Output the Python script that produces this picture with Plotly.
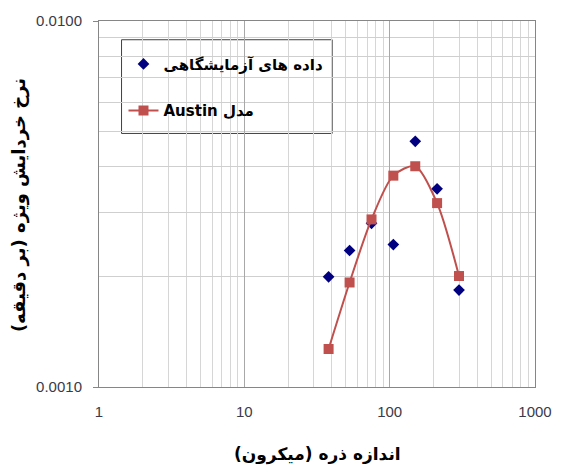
import plotly.graph_objects as go

# Particle size (micron) and specific breakage rate (1/min)
size_um = [38, 53, 75, 106, 150, 212, 300]
rate_lab = [0.00200, 0.00236, 0.00280, 0.00245, 0.00469, 0.00348, 0.00184]
rate_austin = [0.00127, 0.00193, 0.00287, 0.00378, 0.00401, 0.00318, 0.00201]

x_ticks = [1, 10, 100, 1000]
x_tick_text = ["1", "10", "100", "1000"]
y_ticks = [0.001, 0.01]
y_tick_text = ["0.0010", "0.0100"]

name_lab = "<b>داده های آزمایشگاهی</b>"
name_model = "<b>Austin مدل</b>"
x_title = "<b>اندازه ذره (میکرون)\u200f</b>"
y_title = "<b>نرخ خردایش ویژه (بر دقیقه)\u200f</b>"

x_minor = [m * 10 ** k for k in range(0, 3) for m in range(2, 10)]
y_minor = [m * 1e-3 for m in range(2, 10)]

W, H = 564, 472
L, R, T, B = 99, 20, 16, 85
pw, ph = W - L - R, H - T - B


def px_x(p):
    return (p - L) / pw


def px_y(p):
    return (H - B - p) / ph


fig = go.Figure()
fig.add_trace(go.Scatter(
    x=size_um, y=rate_lab, mode="markers", name=name_lab,
    legendgroup="a",
    marker=dict(symbol="diamond", size=9, color="#000080"),
))
fig.add_trace(go.Scatter(
    x=size_um, y=rate_austin, mode="lines+markers", name=name_model,
    legendgroup="b",
    line=dict(color="#C0504D", width=2, shape="spline", smoothing=0.8),
    marker=dict(symbol="square", size=10, color="#C0504D"),
))

tick_font = dict(family="Liberation Sans, Arial, sans-serif", size=15, color="#3a3a4a")

fig.update_layout(
    width=W, height=H,
    margin=dict(l=L, r=R, t=T, b=B),
    paper_bgcolor="white", plot_bgcolor="white",
    showlegend=True,
    legend=dict(
        x=px_x(124), y=px_y(43), xanchor="left", yanchor="top",
        bgcolor="rgba(0,0,0,0)", borderwidth=0,
        font=dict(family="DejaVu Sans, sans-serif", size=15, color="#000000"),
        tracegroupgap=24, traceorder="grouped",
    ),
    xaxis=dict(
        type="log", range=[0, 3],
        tickmode="array", tickvals=x_ticks, ticktext=x_tick_text,
        tickfont=tick_font,
        showgrid=True, gridcolor="#a8a8a8", gridwidth=1,
        showline=True, linecolor="#868686", linewidth=1, mirror=True,
        ticks="outside", ticklen=11, tickcolor="rgba(0,0,0,0)",
        minor=dict(tickmode="array", tickvals=x_minor, showgrid=True,
                   gridcolor="#d6d6d6", gridwidth=1, ticks=""),
        zeroline=False,
    ),
    yaxis=dict(
        type="log", range=[-3, -2],
        tickmode="array", tickvals=y_ticks, ticktext=y_tick_text,
        tickfont=tick_font,
        showgrid=False,
        showline=True, linecolor="#868686", linewidth=1, mirror=True,
        ticks="outside", ticklen=5, tickcolor="#868686",
        ticklabelstandoff=8,
        minor=dict(tickmode="array", tickvals=y_minor, showgrid=True,
                   gridcolor="#cfcfcf", gridwidth=1, ticks=""),
        zeroline=False,
    ),
    shapes=[dict(
        type="rect", xref="paper", yref="paper",
        x0=px_x(122), x1=px_x(337), y0=px_y(130), y1=px_y(35),
        line=dict(color="#404040", width=1), fillcolor="white", layer="below",
    )],
    annotations=[
        dict(text=x_title, xref="paper", yref="paper", x=0.5, y=px_y(455),
             xanchor="center", yanchor="middle", showarrow=False,
             font=dict(family="DejaVu Sans, sans-serif", size=17, color="#000000")),
        dict(text=y_title, xref="paper", yref="paper", x=px_x(18), y=px_y(203),
             xanchor="center", yanchor="middle", showarrow=False, textangle=-90,
             font=dict(family="DejaVu Sans, sans-serif", size=18, color="#000000")),
    ],
)

fig.write_html("out.html")
